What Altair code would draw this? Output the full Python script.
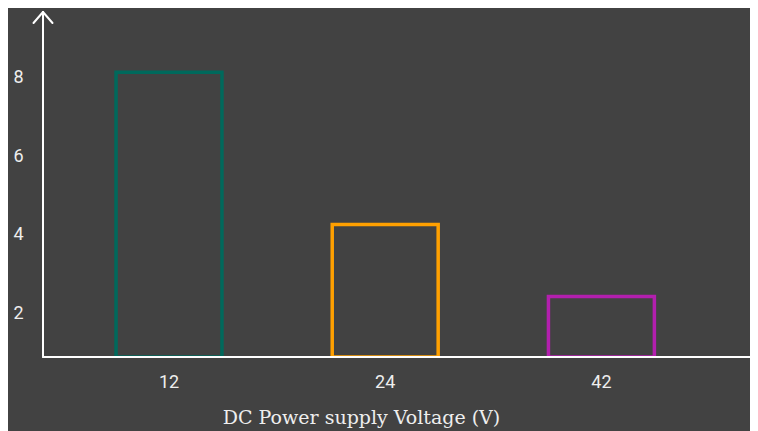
import altair as alt
import pandas as pd

# ---- data ----
voltages = ["12", "24", "42"]
counts = [8.13, 4.26, 2.43]
bar_colors = ["#00695C", "#FFA000", "#B31FAE"]
y_ticks = [2, 4, 6, 8]
y_min, y_max = 0.89, 9.64
x_title = "DC Power supply Voltage (V)"

bg = "#424242"
fg = "#eeeeee"
W, H = 707, 344

df = pd.DataFrame({"voltage": voltages, "count": counts})

bars = alt.Chart(df).mark_bar(fillOpacity=0, strokeWidth=3.5, clip=True).encode(
    x=alt.X(
        "voltage:N",
        sort=voltages,
        scale=alt.Scale(paddingInner=0.51, paddingOuter=0.39, align=0.433),
        axis=alt.Axis(
            title=x_title,
            labelAngle=0,
            ticks=False,
            tickSize=0,
            domain=False,
            grid=False,
            labelPadding=16,
            labelFont="Roboto",
            labelFontSize=18,
            labelColor=fg,
            titleFont="DejaVu Serif",
            titleFontSize=19,
            titleFontWeight="normal",
            titleColor=fg,
            titleX=318,
            titleY=66,
            titleAlign="center",
            titleBaseline="alphabetic",
        ),
    ),
    y=alt.Y(
        "count:Q",
        scale=alt.Scale(domain=[y_min, y_max], nice=False, zero=False),
        axis=alt.Axis(
            title=None,
            values=y_ticks,
            format="d",
            ticks=False,
            tickSize=0,
            domain=False,
            grid=False,
            labelPadding=20,
            labelFont="Roboto",
            labelFontSize=18,
            labelColor=fg,
        ),
    ),
    y2=alt.datum(y_min),
    stroke=alt.Stroke(
        "voltage:N",
        scale=alt.Scale(domain=voltages, range=bar_colors),
        legend=None,
    ),
)

one = alt.Data(values=[{}])
rule_style = dict(color="white", strokeWidth=2, strokeCap="round")

# axis lines with arrow heads (decoration)
y_line = alt.Chart(one).mark_rule(**rule_style).encode(
    x=alt.value(0), y=alt.value(-1), y2=alt.value(H)
)
y_arm_l = alt.Chart(one).mark_rule(**rule_style).encode(
    x=alt.value(0), y=alt.value(-1), x2=alt.value(-9.5), y2=alt.value(10)
)
y_arm_r = alt.Chart(one).mark_rule(**rule_style).encode(
    x=alt.value(0), y=alt.value(-1), x2=alt.value(9.5), y2=alt.value(10)
)
x_line = alt.Chart(one).mark_rule(**rule_style).encode(
    x=alt.value(0), x2=alt.value(722), y=alt.value(H)
)
x_arm_t = alt.Chart(one).mark_rule(**rule_style).encode(
    x=alt.value(722), y=alt.value(H), x2=alt.value(711), y2=alt.value(H - 10)
)
x_arm_b = alt.Chart(one).mark_rule(**rule_style).encode(
    x=alt.value(722), y=alt.value(H), x2=alt.value(711), y2=alt.value(H + 10)
)

page_css = "html, body { background: %s; overflow: hidden; }" % bg

chart = (
    alt.layer(bars, y_line, y_arm_l, y_arm_r, x_line, x_arm_t, x_arm_b)
    .properties(
        width=W,
        height=H,
        background=bg,
        padding={"left": 35, "top": 5, "right": 0, "bottom": 80},
        autosize=alt.AutoSizeParams(type="none"),
        usermeta={"embedOptions": {"defaultStyle": page_css}},
    )
    .configure_view(stroke=None)
)

chart.save("out.html", embed_options={"renderer": "svg", "actions": False})
